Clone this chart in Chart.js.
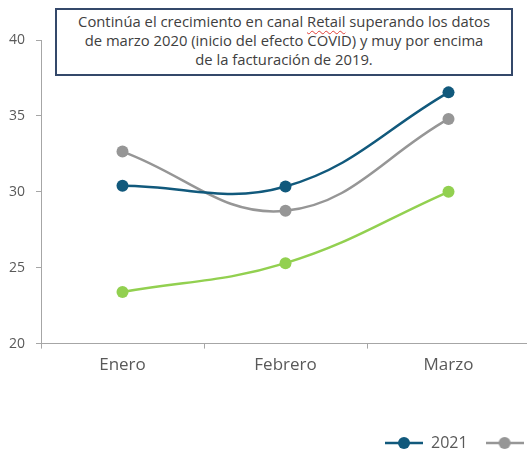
<!DOCTYPE html>
<html>
<head>
<meta charset="utf-8">
<script src="https://cdn.jsdelivr.net/npm/chart.js@4.4.1/dist/chart.umd.min.js"></script>
<style>
  html, body { margin: 0; padding: 0; background: #fff; overflow: hidden; }
  #wrap { position: relative; width: 527px; height: 454px; overflow: hidden; }
  #note {
    position: absolute; left: 55px; top: 8px; width: 458px; height: 68px;
    box-sizing: border-box; border: 2px solid #34486a; background: #fff;
    font-family: "Open Sans", sans-serif; font-size: 14.8px; line-height: 19px;
    color: #404040; text-align: center; padding-top: 2px;
  }
  #note .sp { text-decoration: underline wavy #e0403a; text-decoration-thickness: 1px; text-underline-offset: 3px; }
</style>
</head>
<body>
<div id="wrap">
  <canvas id="chart" width="536" height="454"></canvas>
  <div id="note">Continúa el crecimiento en canal <span class="sp">Retail</span> superando los datos<br>de marzo 2020 (inicio del efecto COVID) y muy por encima<br>de la facturación de 2019.</div>
</div>
<script>
const months = ['Enero', 'Febrero', 'Marzo'];
const years = ['2021', '2020', '2019'];
const colors = ['#11597c', '#969696', '#92d050'];
const sales2021 = [30.4, 30.35, 36.55];
const sales2020 = [32.65, 28.75, 34.8];
const sales2019 = [23.4, 25.3, 30.0];
const yTicks = [20, 25, 30, 35, 40];

// legend marker: line with a dot in the middle
function marker(color) {
  const c = document.createElement('canvas');
  c.width = 38; c.height = 14;
  const g = c.getContext('2d');
  g.strokeStyle = color; g.lineWidth = 2.5;
  g.beginPath(); g.moveTo(0, 7); g.lineTo(38, 7); g.stroke();
  g.fillStyle = color;
  g.beginPath(); g.arc(19, 7, 6, 0, Math.PI * 2); g.fill();
  return c;
}

const series = [sales2021, sales2020, sales2019];

// the original legend sits further right and is cut off by the picture edge
const legendShift = {
  id: 'legendShift',
  afterLayout(chart) {
    const lg = chart.legend;
    const pad = lg.options.labels.padding;
    lg.left = 385 - pad;
    lg.right = lg.left + 800;
    lg.top = 443 - pad - 8;
    lg.bottom = lg.top + 60;
  }
};

new Chart(document.getElementById('chart'), {
  type: 'line',
  data: {
    labels: months,
    datasets: series.map((vals, i) => ({
      label: years[i],
      data: vals,
      borderColor: colors[i],
      backgroundColor: colors[i],
      borderWidth: 2.5,
      pointRadius: 6,
      pointHoverRadius: 6,
      pointBorderWidth: 0,
      tension: 0.4,
      fill: false
    }))
  },
  options: {
    responsive: false,
    animation: false,
    devicePixelRatio: 1,
    layout: { padding: { top: 40, bottom: 29, right: 0, left: 0 } },
    plugins: {
      tooltip: { enabled: false },
      legend: {
        position: 'bottom',
        align: 'start',
        labels: {
          usePointStyle: true,
          pointStyleWidth: 38,
          padding: 18,
          color: '#595959',
          font: { family: 'Open Sans', size: 16 },
          generateLabels: (chart) => chart.data.datasets.map((ds, i) => ({
            text: ds.label,
            pointStyle: marker(colors[i]),
            fillStyle: colors[i],
            strokeStyle: colors[i],
            lineWidth: 0,
            fontColor: '#595959',
            datasetIndex: i
          }))
        }
      }
    },
    scales: {
      x: {
        offset: true,
        grid: { offset: true, drawOnChartArea: false, tickLength: 5, color: '#a6a6a6' },
        border: { color: '#a6a6a6' },
        ticks: { color: '#595959', padding: 6, font: { family: 'Open Sans', size: 17 } }
      },
      y: {
        min: 20,
        max: 40,
        afterFit: (s) => { s.width = 41; },
        afterBuildTicks: (s) => { s.ticks = yTicks.map(v => ({ value: v })); },
        grid: { drawOnChartArea: false, tickLength: 5, color: '#a6a6a6' },
        border: { color: '#a6a6a6' },
        ticks: { color: '#595959', padding: 11, font: { family: 'Open Sans', size: 14 } }
      }
    }
  },
  plugins: [legendShift]
});
</script>
</body>
</html>
